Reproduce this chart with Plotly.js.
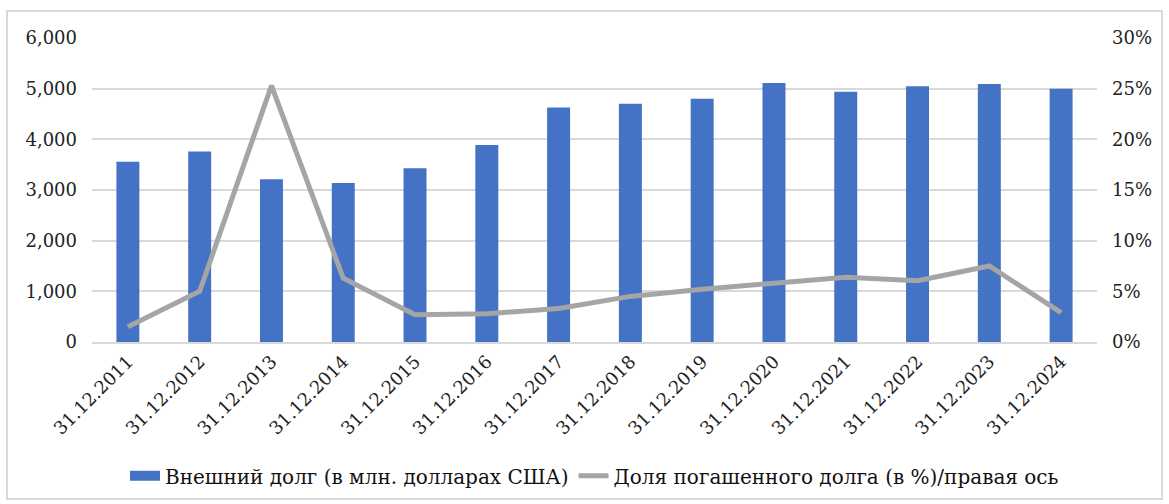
<!DOCTYPE html>
<html>
<head>
<meta charset="utf-8">
<script src="https://cdn.plot.ly/plotly-3.0.1.min.js"></script>
<style>
  html, body { margin: 0; padding: 0; background: #fff; }
  #frame { position: absolute; left: 6px; top: 10px; width: 1157px; height: 490px; border: 2px solid #d9d9d9; box-sizing: border-box; pointer-events: none; }
  #chart { position: absolute; left: 0; top: 0; width: 1169px; height: 504px; }
</style>
</head>
<body>
<div id="chart"></div>
<div id="frame"></div>
<script>
const categories = ["31.12.2011","31.12.2012","31.12.2013","31.12.2014","31.12.2015","31.12.2016","31.12.2017","31.12.2018","31.12.2019","31.12.2020","31.12.2021","31.12.2022","31.12.2023","31.12.2024"];
const externalDebt = [3560, 3760, 3210, 3140, 3430, 3890, 4630, 4700, 4800, 5110, 4940, 5050, 5090, 5000];
const repaidShare = [1.5, 5.0, 25.3, 6.3, 2.7, 2.8, 3.3, 4.5, 5.2, 5.85, 6.4, 6.05, 7.5, 2.9];
const leftTicks = [0, 1000, 2000, 3000, 4000, 5000, 6000];
const leftTickText = ["0", "1,000", "2,000", "3,000", "4,000", "5,000", "6,000"];
const rightTicks = [0, 5, 10, 15, 20, 25, 30];
const rightTickText = ["0%", "5%", "10%", "15%", "20%", "25%", "30%"];
const barName = "Внешний долг (в млн. долларах США)";
const lineName = "Доля погашенного долга (в %)/правая ось";

const SERIF = "DejaVu Serif";
const tf = {family: SERIF, size: 18, color: "#222"};

const data = [
  {type: "bar", name: barName, x: categories, y: externalDebt, showlegend: false,
   marker: {color: "#4472c4"}, yaxis: "y"},
  {type: "scatter", mode: "lines", name: barName, x: [null], y: [null], yaxis: "y",
   line: {color: "#4472c4", width: 10}, showlegend: true},
  {type: "scatter", mode: "lines", name: lineName, x: categories, y: repaidShare,
   line: {color: "#a5a5a5", width: 5}, yaxis: "y2"}
];

const layout = {
  width: 1169, height: 504,
  margin: {l: 92, r: 72, t: 38, b: 162},
  paper_bgcolor: "#fff", plot_bgcolor: "#fff",
  font: tf,
  bargap: 0.68,
  showlegend: true,
  legend: {orientation: "h", x: 0.5, xanchor: "center", yref: "container", y: 0.056, yanchor: "middle",
           font: {family: SERIF, size: 20, color: "#111"}, itemwidth: 30},
  xaxis: {type: "category", tickangle: -45, showgrid: false, showline: true, linecolor: "#d9d9d9", linewidth: 2,
          ticks: "", tickfont: tf, automargin: false},
  yaxis: {range: [0, 6000], tickmode: "array", tickvals: leftTicks, ticktext: leftTickText,
          showgrid: true, gridcolor: "#d9d9d9", gridwidth: 2, automargin: false,
          zeroline: false, showline: false, ticks: "", ticklabelstandoff: 14, tickfont: tf},
  yaxis2: {range: [0, 30], tickmode: "array", tickvals: rightTicks, ticktext: rightTickText,
           overlaying: "y", side: "right", showgrid: false, automargin: false,
           zeroline: false, showline: false, ticks: "", ticklabelstandoff: 14, tickfont: tf}
};

Plotly.newPlot("chart", data, layout, {displayModeBar: false, staticPlot: true});
</script>
</body>
</html>
